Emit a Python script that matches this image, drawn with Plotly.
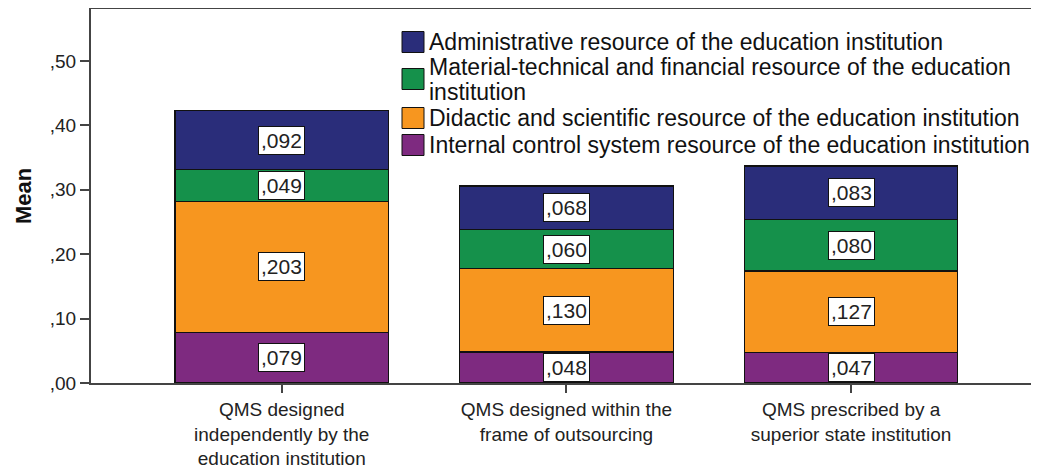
import plotly.graph_objects as go

categories = [
    "QMS designed<br>independently by the<br>education institution",
    "QMS designed within the<br>frame of outsourcing",
    "QMS prescribed by a<br>superior state institution",
]
series_names = [
    "Internal control system resource of the education institution",
    "Didactic and scientific resource of the education institution",
    "Material-technical and financial resource of the education<br>institution",
    "Administrative resource of the education institution",
]
internal_control = [0.079, 0.048, 0.047]
didactic = [0.203, 0.130, 0.127]
material = [0.049, 0.060, 0.080]
administrative = [0.092, 0.068, 0.083]
series_values = [internal_control, didactic, material, administrative]
colors = ["#7e2a80", "#f7961f", "#15914b", "#2a2d7a"]
y_ticks = [0.0, 0.1, 0.2, 0.3, 0.4, 0.5]

# the page body adds an 8px offset; size the figure so the window shows it all
OFF = 8
W, H = 1039 - OFF, 468 - OFF
ML, MR, MT, MB = 91 - OFF, 0, 9 - OFF, 85
PW, PH = W - ML - MR, H - MT - MB
FONT = "Liberation Sans, Arial, sans-serif"


def px_x(p):
    return (p - OFF - ML) / PW


def px_y(p):
    return (H - MB - (p - OFF)) / PH


def fmt(v, d):
    s = f"{v:.{d}f}"
    return s[1:].replace(".", ",") if s.startswith("0") else s.replace(".", ",")


fig = go.Figure()
x_idx = list(range(len(categories)))
for name, vals, col in zip(series_names, series_values, colors):
    fig.add_trace(go.Bar(
        x=x_idx, y=vals, name=name.replace("<br>", " "), width=0.75,
        marker=dict(color=col, line=dict(color="#111111", width=1.2)),
        hoverinfo="skip", showlegend=False,
    ))

annotations = []
shapes = []
# value labels in boxes, centred in each segment
for i in x_idx:
    base = 0.0
    for vals in series_values:
        v = vals[i]
        annotations.append(dict(
            x=i, y=base + v / 2, xref="x", yref="y", text=fmt(v, 3),
            showarrow=False, bgcolor="white", bordercolor="#111111",
            borderwidth=1, borderpad=2,
            font=dict(family=FONT, size=21, color="#222222"),
        ))
        base += v

# legend (top of stack first)
legend_rows = [145, 118, 67, 42]       # text centre of first line, per series
symbol_centres = [145, 118, 79, 42]
for name, col, ty, sy in zip(series_names, colors, legend_rows, symbol_centres):
    shapes.append(dict(
        type="rect", xref="paper", yref="paper",
        x0=px_x(402), x1=px_x(424), y0=px_y(sy + 10.5), y1=px_y(sy - 10.5),
        fillcolor=col, line=dict(color="#111111", width=1),
    ))
    for k, line in enumerate(name.split("<br>")):
        annotations.append(dict(
            x=px_x(427), y=px_y(ty + 25 * k), xref="paper", yref="paper",
            xanchor="left", yanchor="middle", text=line, showarrow=False,
            font=dict(family=FONT, size=23, color="#111111"),
        ))

fig.update_layout(
    width=W, height=H,
    margin=dict(l=ML, r=MR, t=MT, b=MB, autoexpand=False),
    barmode="stack",
    paper_bgcolor="white", plot_bgcolor="white",
    font=dict(family=FONT, color="#222222"),
    annotations=annotations, shapes=shapes, showlegend=False,
    xaxis=dict(
        range=[-0.67, 2.66], tickmode="array", tickvals=x_idx, ticktext=categories,
        showline=True, linecolor="#444444", linewidth=2, mirror=True,
        ticks="outside", ticklen=8, tickcolor="#444444", tickwidth=2,
        tickfont=dict(family=FONT, size=19, color="#222222"),
        showgrid=False, zeroline=False, automargin=False,
    ),
    yaxis=dict(
        range=[0, 0.5807], tickmode="array", tickvals=y_ticks,
        ticktext=[fmt(t, 2) for t in y_ticks],
        showline=True, linecolor="#444444", linewidth=2,
        ticks="outside", ticklen=9, tickcolor="#444444", tickwidth=2,
        tickfont=dict(family=FONT, size=19, color="#222222"),
        showgrid=False, zeroline=False, automargin=False,
        title=dict(text="<b>Mean</b>", font=dict(family=FONT, size=22, color="#111111"),
                   standoff=12),
    ),
)

fig.write_html("out.html")
